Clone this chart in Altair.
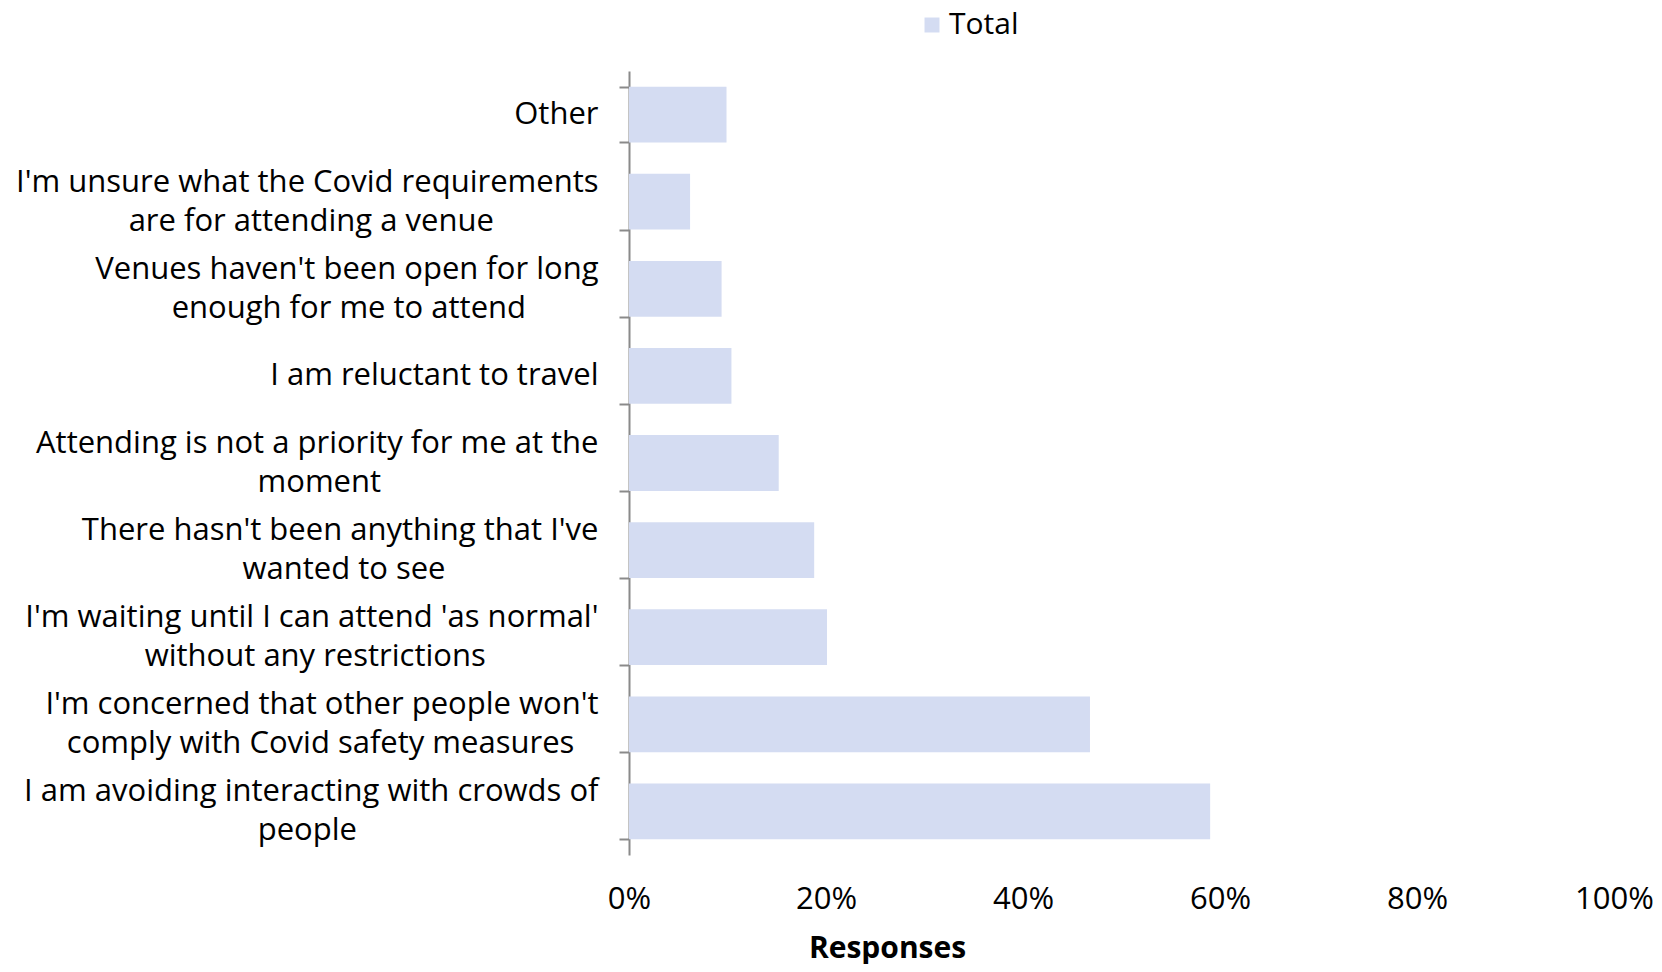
import altair as alt
import pandas as pd
import json

# ---- data -------------------------------------------------------------
reasons = [
    ["Other"],
    ["I'm unsure what the Covid requirements", "are for attending a venue"],
    ["Venues haven't been open for long", "enough for me to attend"],
    ["I am reluctant to travel"],
    ["Attending is not a priority for me at the", "moment"],
    ["There hasn't been anything that I've", "wanted to see"],
    ["I'm waiting until I can attend 'as normal'", "without any restrictions"],
    ["I'm concerned that other people won't", "comply with Covid safety measures"],
    ["I am avoiding interacting with crowds of", "people"],
]
totals = [0.099, 0.062, 0.094, 0.104, 0.152, 0.188, 0.201, 0.468, 0.590]
series = ["Total"]
x_ticks = [0, 0.2, 0.4, 0.6, 0.8, 1.0]

FONT = "Open Sans"
FONT_SIZE = 30
LABEL_SIZE = 31
LINE_HEIGHT = 39
NBSP = "\u00a0"
ZWSP = "\u200b"

# approximate Open Sans advance widths (em) used only to centre wrapped lines
_W = {
    " ": 0.26, "a": 0.556, "b": 0.613, "c": 0.476, "d": 0.613, "e": 0.561,
    "f": 0.339, "g": 0.548, "h": 0.614, "i": 0.253, "j": 0.253, "k": 0.525,
    "l": 0.253, "m": 0.93, "n": 0.614, "o": 0.604, "p": 0.613, "q": 0.613,
    "r": 0.408, "s": 0.477, "t": 0.353, "u": 0.614, "v": 0.501, "w": 0.778,
    "x": 0.524, "y": 0.502, "z": 0.477, "'": 0.188, "I": 0.303, "A": 0.633,
    "C": 0.631, "O": 0.78, "V": 0.579, "T": 0.541, "W": 0.926,
}


def text_w(s):
    return sum(_W.get(ch, 0.58) for ch in s)


def centre_block(lines):
    """Pad shorter lines on the right (non-breaking spaces) so that,
    right-aligned, they appear centred under the longest line."""
    longest = max(text_w(l) for l in lines)
    out = []
    for l in lines:
        n = int(round((longest - text_w(l)) / 2 / _W[" "]))
        out.append(l + NBSP * n + ZWSP if n > 0 else l)
    return out


keys = [" ".join(r) for r in reasons]
label_map = {key: centre_block(r) for key, r in zip(keys, reasons)}
label_expr = "(" + json.dumps(label_map, ensure_ascii=False) + ")[datum.value]"
two_line = [key for key, r in zip(keys, reasons) if len(r) > 1]
two_line_test = "indexof(" + json.dumps(two_line, ensure_ascii=False) + ", datum.value) >= 0"

df = pd.DataFrame({"reason": keys, "value": totals, "series": series * len(keys)})

chart = (
    alt.Chart(df)
    .mark_bar()
    .encode(
        y=alt.Y(
            "reason:N",
            sort=keys,
            scale=alt.Scale(paddingInner=0.36, paddingOuter=0.18),
            axis=alt.Axis(
                title=None,
                labelExpr=label_expr,
                labelFont=FONT,
                labelFontSize=LABEL_SIZE,
                labelColor="#000000",
                labelLineHeight=LINE_HEIGHT,
                labelLimit=1000,
                labelPadding=21,
                labelAlign="right",
                labelBaseline="middle",
                labelOffset={"condition": {"test": two_line_test, "value": -LINE_HEIGHT / 2}, "value": 0},
                tickBand="extent",
                tickSize=10,
                tickColor="#8a8a8a",
                tickWidth=2,
                domainColor="#8a8a8a",
                domainWidth=2,
                grid=False,
            ),
        ),
        x=alt.X(
            "value:Q",
            scale=alt.Scale(domain=[0, 1], nice=False),
            axis=alt.Axis(
                title="Responses",
                values=x_ticks,
                format=".0%",
                labelFont=FONT,
                labelFontSize=LABEL_SIZE,
                labelColor="#000000",
                labelPadding=44,
                labelBaseline="middle",
                labelFlush=False,
                ticks=False,
                tickSize=0,
                domain=False,
                grid=False,
                titleFont=FONT,
                titleFontSize=FONT_SIZE,
                titleFontWeight="bold",
                titleColor="#000000",
                titleX=258,
                titleY=93,
                titleAlign="center",
                titleBaseline="middle",
            ),
        ),
        color=alt.Color(
            "series:N",
            scale=alt.Scale(domain=series, range=["#D4DCF2"]),
            legend=alt.Legend(
                title=None,
                orient="none",
                legendX=288,
                legendY=-61,
                padding=0,
                symbolType="square",
                symbolSize=225,
                symbolStrokeWidth=0,
                symbolOffset=0,
                labelFont=FONT,
                labelFontSize=FONT_SIZE,
                labelColor="#000000",
                labelOffset=2,
            ),
        ),
    )
    .properties(
        width=985,
        height=784,
        autosize=alt.AutoSizeParams(type="none"),
        padding={"left": 621, "top": 63, "right": 40, "bottom": 109},
    )
    .configure(font=FONT)
    .configure_view(stroke=None, strokeWidth=0)
)

chart.save("out.html", embed_options={"renderer": "svg", "actions": False})
